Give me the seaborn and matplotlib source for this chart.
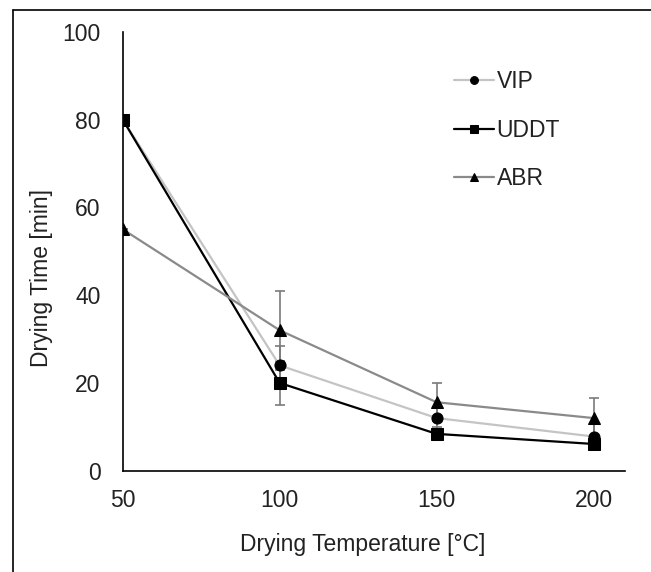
import numpy as np
import pandas as pd
import matplotlib
matplotlib.use("Agg")
import matplotlib.pyplot as plt
from matplotlib.lines import Line2D
import seaborn as sns

# data
temperature = [50, 100, 150, 200]

vip_time = [80, 24, 12, 7.8]
vip_err = [0, 4.3, 2.6, 2.8]

uddt_time = [80, 20, 8.4, 6.1]
uddt_err = [0, 5, 1.5, 0.8]

abr_time = [55, 32, 15.6, 12]
abr_err = [0, 9, 4.3, 4.6]

series_names = ["VIP", "UDDT", "ABR"]
line_colors = ["#c4c4c4", "#000000", "#8a8a8a"]
markers = ["o", "s", "^"]

df = pd.DataFrame({
    "temperature": temperature * 3,
    "time": vip_time + uddt_time + abr_time,
    "err": vip_err + uddt_err + abr_err,
    "series": [n for n in series_names for _ in temperature],
})

sns.set_style("white")
plt.rcParams["font.family"] = ["Liberation Sans", "DejaVu Sans"]

FS = 16.5

fig = plt.figure(figsize=(6.51, 5.72), dpi=100)
ax = fig.add_axes([0.1885, 0.177, 0.7715, 0.7676])

# error bars first (gray, behind the markers)
for name in series_names:
    sub = df[df["series"] == name]
    ax.errorbar(sub["temperature"], sub["time"], yerr=sub["err"], fmt="none",
                ecolor="#7a7a7a", elinewidth=1.2, capsize=3.6, capthick=1.2,
                zorder=1)

for name, col, mk in zip(series_names, line_colors, markers):
    sub = df[df["series"] == name]
    sns.lineplot(data=sub, x="temperature", y="time", ax=ax, color=col,
                 linewidth=1.6, marker=mk, markersize=8,
                 markerfacecolor="black", markeredgecolor="black",
                 label=name, zorder=3)

ax.set_xlim(50, 210)
ax.set_ylim(0, 100)
ax.set_xticks([50, 100, 150, 200])
ax.set_yticks([0, 20, 40, 60, 80, 100])

for side in ["top", "right"]:
    ax.spines[side].set_visible(False)
for side in ["left", "bottom"]:
    ax.spines[side].set_color("black")
    ax.spines[side].set_linewidth(1.2)

ax.tick_params(axis="both", direction="out", length=5, width=1.2,
               colors="black", labelsize=FS, labelcolor="#222222")
ax.tick_params(axis="y", pad=11)
ax.tick_params(axis="x", pad=8)
ax.grid(False)

ax.set_xlabel("Drying Temperature [\u00b0C]", fontsize=FS, color="#222222")
ax.set_ylabel("Drying Time [min]", fontsize=FS, color="#222222")
ax.xaxis.set_label_coords(0.478, -0.169)
ax.xaxis.label.set_va("center")
ax.yaxis.set_label_coords(-0.161, 0.44)
ax.yaxis.label.set_va("center")

ax.legend(loc="upper left", bbox_to_anchor=(0.66, 0.912), frameon=False,
          fontsize=FS, handlelength=1.75, handletextpad=0.1,
          labelspacing=1.1, borderpad=0, borderaxespad=0, markerscale=0.7,
          labelcolor="#222222")

# thin frame on the left and top edges of the figure
fig.add_artist(Line2D([12.7 / 651, 12.7 / 651], [0, 1 - 10.3 / 572],
                      transform=fig.transFigure, color="black", lw=1.2))
fig.add_artist(Line2D([12.7 / 651, 1], [1 - 10.3 / 572, 1 - 10.3 / 572],
                      transform=fig.transFigure, color="black", lw=1.2))

fig.savefig("out.png", dpi=100, facecolor="white")
